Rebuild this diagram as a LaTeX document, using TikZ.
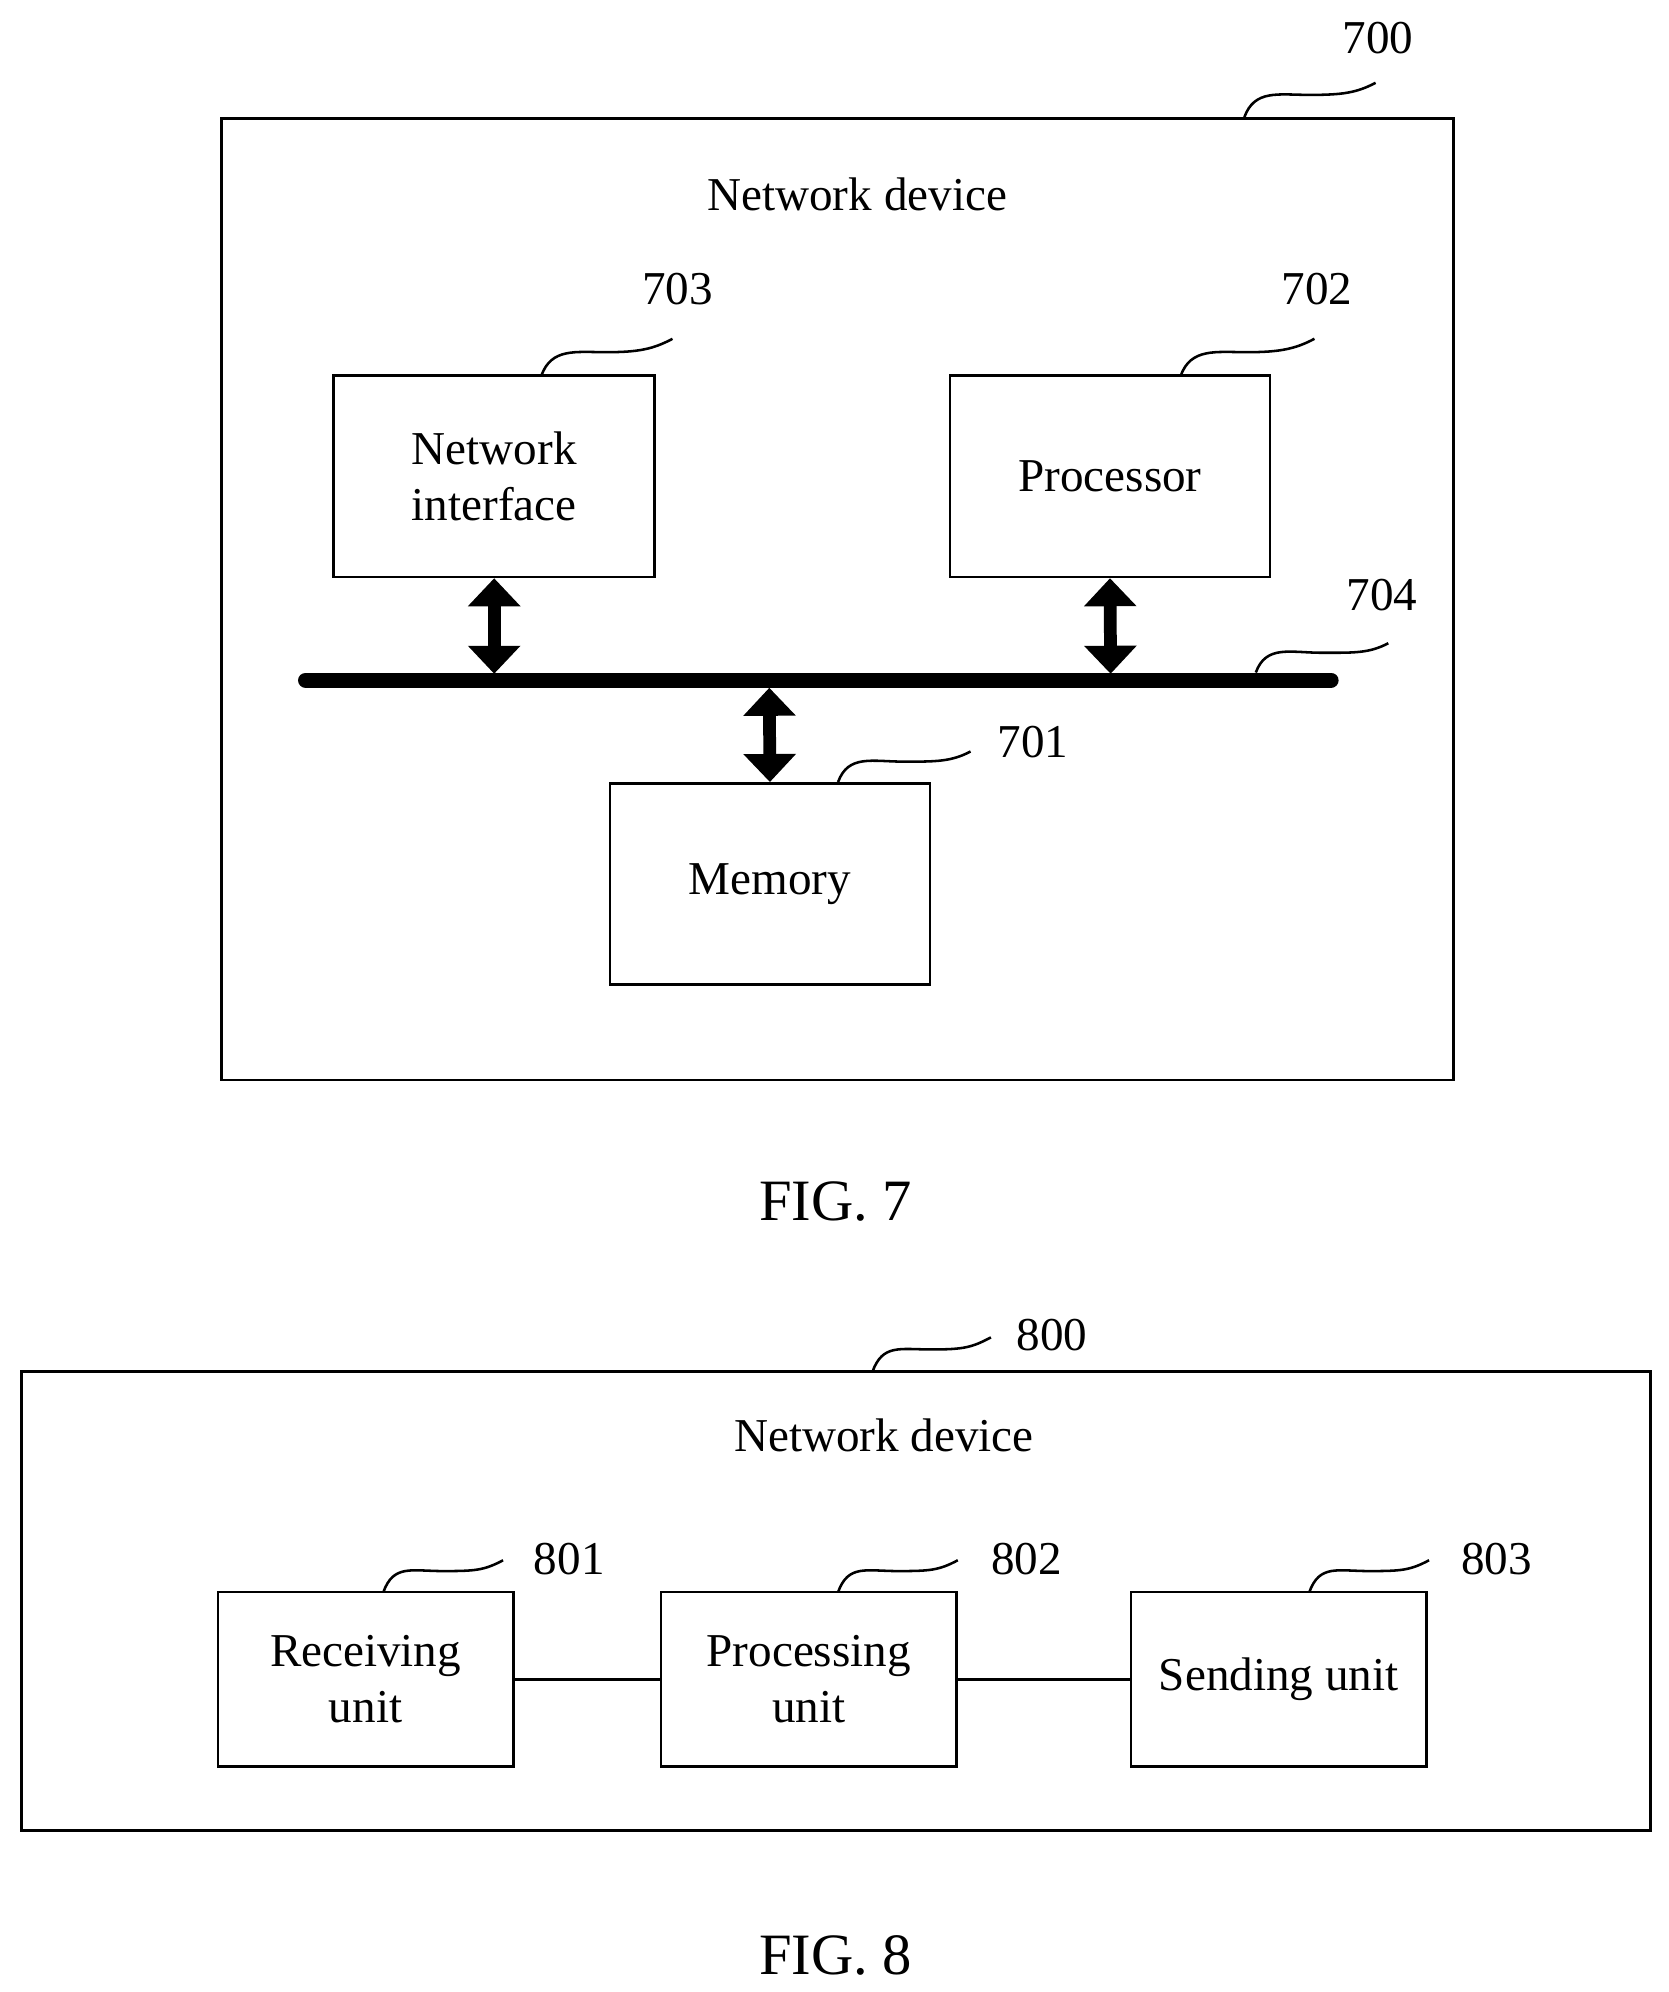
\documentclass[tikz,border=0pt]{standalone}
\usepackage{fontspec}
\setmainfont{Liberation Serif}
\usetikzlibrary{arrows.meta}
\begin{document}
\begin{tikzpicture}[x=0.5pt,y=0.5pt,
  box/.style={draw,line width=1pt,inner sep=0pt,align=center,font=\fontsize{18.5}{22}\selectfont},
  lbl/.style={font=\fontsize{18.5}{22}\selectfont},
  lead/.style={line width=1pt},
  dbl/.style={line width=5pt,{Triangle[width=20pt,length=11pt]}-{Triangle[width=20pt,length=11pt]}}]
\useasboundingbox (0,0) rectangle (1310,-1564);
% FIG 7
\draw[line width=1pt] (174,-93) rectangle (1141,-848);
\node[lbl] (t7) at (673,-153) {Network device};
\node[box,minimum width=126pt,minimum height=79pt] (ni) at (388,-374) {Network\\interface};
\node[box,minimum width=125.5pt,minimum height=79pt] (pr) at (871.5,-374) {Processor};
\node[box,minimum width=125.5pt,minimum height=79pt] (me) at (604.5,-694) {Memory};
\coordinate (b1) at (240,-534); \coordinate (b2) at (1045,-534);
\draw[line width=6pt,line cap=round] (b1) -- (b2);
\draw[dbl] (ni.south) -- (388,-529);
\draw[dbl] (pr.south) -- (872,-529);
\draw[dbl] (604,-540) -- (me.north);
\newcommand{\squig}[4]{\draw[lead] (#1,#2) .. controls +(8,22) and +(-25,0) .. ({(#1+#3)/2},{(#2+#4)/2+4}) .. controls +(25,0) and +(-15,-8) .. (#3,#4);}
\squig{977}{-92}{1080}{-65}
\node[lbl] (l700) at (1082,-30) {700};
\squig{425}{-295}{528}{-266}
\node[lbl] (l703) at (532,-227) {703};
\squig{927}{-295}{1032}{-266}
\node[lbl] (l702) at (1034,-227) {702};
\squig{986}{-528}{1090}{-505}
\node[lbl] (l704) at (1085,-467) {704};
\squig{658}{-614}{762}{-590}
\node[lbl] (l701) at (811,-583) {701};
\node[font=\fontsize{23}{26}\selectfont] (f7) at (656,-943) {FIG. 7};
% FIG 8
\draw[line width=1pt] (17,-1077) rectangle (1296,-1437);
\node[lbl] (t8) at (694,-1127) {Network device};
\node[box,minimum width=116pt,minimum height=68.5pt] (ru) at (287,-1318.5) {Receiving\\unit};
\node[box,minimum width=116pt,minimum height=68.5pt] (pu) at (635,-1318.5) {Processing\\unit};
\node[box,minimum width=116pt,minimum height=68.5pt] (su) at (1004,-1318.5) {Sending unit};
\draw[line width=1pt] (ru.east) -- (pu.west);
\draw[line width=1pt] (pu.east) -- (su.west);
\squig{685}{-1077}{778}{-1050}
\node[lbl] (l800) at (826,-1048) {800};
\squig{301}{-1250}{395}{-1225}
\node[lbl] (l801) at (447,-1224) {801};
\squig{658}{-1250}{752}{-1225}
\node[lbl] (l802) at (806,-1224) {802};
\squig{1028}{-1250}{1122}{-1225}
\node[lbl] (l803) at (1175,-1224) {803};
\node[font=\fontsize{23}{26}\selectfont] (f8) at (656,-1535) {FIG. 8};
\end{tikzpicture}
\end{document}
